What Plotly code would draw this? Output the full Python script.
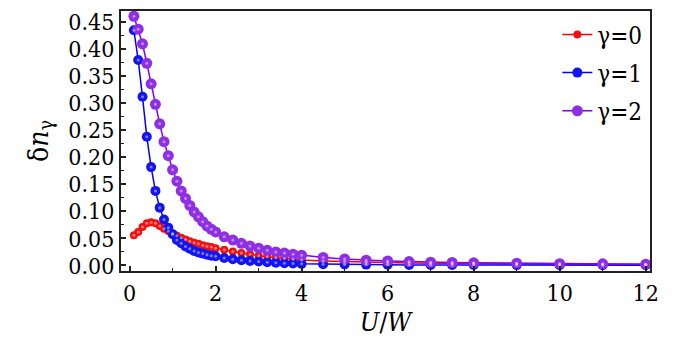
import plotly.graph_objects as go

x_vals = [0.1, 0.2, 0.3, 0.4, 0.5, 0.6, 0.7, 0.8, 0.9, 1.0,
          1.1, 1.2, 1.3, 1.4, 1.5, 1.6, 1.7, 1.8, 1.9, 2.0,
          2.2, 2.4, 2.6, 2.8, 3.0, 3.2, 3.4, 3.6, 3.8, 4.0,
          4.5, 5.0, 5.5, 6.0, 6.5, 7.0, 7.5, 8.0, 9.0, 10.0, 11.0, 12.0]

dn_gamma0 = [0.056, 0.062, 0.071, 0.078, 0.080, 0.078, 0.073, 0.068, 0.064, 0.059,
             0.055, 0.0515, 0.048, 0.045, 0.042, 0.040, 0.0375, 0.0357, 0.034, 0.032,
             0.029, 0.026, 0.023, 0.0206, 0.018, 0.016, 0.0145, 0.0127, 0.0115, 0.010,
             0.0085, 0.0072, 0.0062, 0.0054, 0.0048, 0.0043, 0.0039, 0.0035, 0.0030, 0.0026, 0.0023, 0.0021]

dn_gamma1 = [0.435, 0.380, 0.312, 0.238, 0.182, 0.138, 0.107, 0.085, 0.070, 0.058,
             0.047, 0.041, 0.035, 0.031, 0.027, 0.024, 0.022, 0.020, 0.018, 0.017,
             0.014, 0.0115, 0.0097, 0.0085, 0.0073, 0.006, 0.005, 0.0042, 0.0036, 0.003,
             0.0024, 0.0019, 0.0016, 0.0013, 0.0011, 0.0010, 0.0009, 0.0008, 0.0007, 0.0006, 0.0005, 0.0005]

dn_gamma2 = [0.461, 0.437, 0.410, 0.374, 0.336, 0.298, 0.262, 0.229, 0.203, 0.177,
             0.156, 0.138, 0.124, 0.111, 0.099, 0.090, 0.081, 0.073, 0.067, 0.062,
             0.053, 0.047, 0.041, 0.036, 0.032, 0.028, 0.025, 0.023, 0.021, 0.019,
             0.015, 0.012, 0.0097, 0.0085, 0.0073, 0.006, 0.0055, 0.005, 0.0043, 0.0033, 0.003, 0.0025]

series = [
    ("γ=0", dn_gamma0, "#ff0000", "#f01010", 8),
    ("γ=1", dn_gamma1, "#0000ff", "#1414f0", 10),
    ("γ=2", dn_gamma2, "#8000ff", "#8e2fe6", 11),
]

FONT = "DejaVu Serif Condensed"

fig = go.Figure()
for name, ys, lc, mc, ms in series:
    fig.add_trace(go.Scatter(
        x=x_vals, y=ys, name=name, mode="lines+markers", legendgroup=name,
        line=dict(color=lc, width=1.5),
        marker=dict(color=mc, size=ms, line=dict(width=0)),
    ))
for name, ys, lc, mc, ms in series:
    fig.add_trace(go.Scatter(
        x=x_vals, y=ys, mode="markers", showlegend=False, hoverinfo="skip",
        legendgroup=name,
        marker=dict(color="rgba(255,255,255,0.45)", size=3, line=dict(width=0)),
    ))

fig.update_layout(
    width=685, height=341,
    margin=dict(l=121, r=35, t=9, b=68),
    paper_bgcolor="white", plot_bgcolor="white",
    font=dict(family=FONT, size=23, color="black"),
    showlegend=True,
    legend=dict(
        x=0.995, y=0.995, xanchor="right", yanchor="top",
        bgcolor="rgba(0,0,0,0)", borderwidth=0,
        font=dict(family=FONT, size=24, color="black"),
        traceorder="grouped", tracegroupgap=4,
    ),
)

fig.update_xaxes(
    range=[-0.2, 12.1], tickmode="array", tickvals=[0, 2, 4, 6, 8, 10, 12],
    ticks="inside", ticklen=5, tickwidth=1.5, tickcolor="#222",
    minor=dict(ticks="inside", ticklen=3, tickwidth=1.2, tickcolor="#222", dtick=1, tick0=0),
    showline=True, linecolor="#222", linewidth=2, mirror=True,
    showgrid=False, zeroline=False,
    tickfont=dict(family=FONT, size=23),
    title=dict(text="<i>U</i>/<i>W</i>", font=dict(family=FONT, size=26), standoff=8),
)
fig.update_yaxes(
    range=[-0.0102, 0.4707], tickmode="array",
    tickvals=[0, 0.05, 0.10, 0.15, 0.20, 0.25, 0.30, 0.35, 0.40, 0.45],
    tickformat=".2f",
    ticks="inside", ticklen=5, tickwidth=1.5, tickcolor="#222",
    minor=dict(ticks="inside", ticklen=3, tickwidth=1.2, tickcolor="#222", dtick=0.025, tick0=0),
    showline=True, linecolor="#222", linewidth=2, mirror=True,
    showgrid=False, zeroline=False,
    tickfont=dict(family=FONT, size=23),
    title=dict(text="δ<i>n</i><sub>γ</sub>", font=dict(family=FONT, size=28), standoff=12),
)

fig.write_html("out.html")
